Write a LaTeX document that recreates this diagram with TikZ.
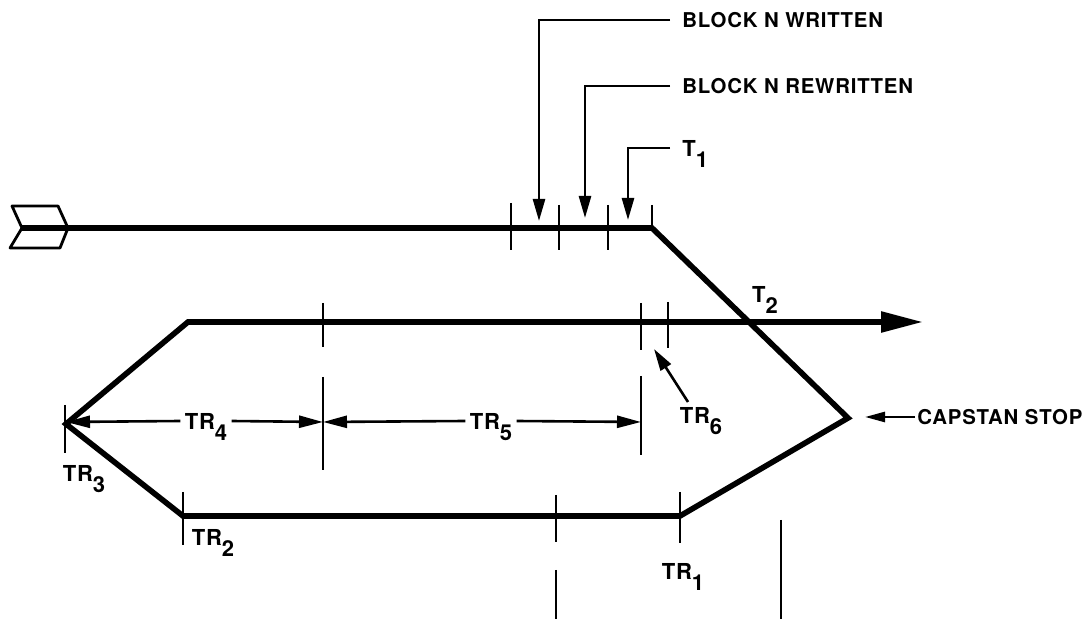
\documentclass[tikz,border=0pt]{standalone}
\usepackage{fontspec}
\setmainfont{TeX Gyre Heros}[LetterSpace=4]
\usetikzlibrary{arrows.meta}
\newcommand\lowsub[1]{\smash{\raisebox{-0.5em}{#1}}}
\tikzset{
  thickline/.style={line width=2.8pt},
  tickline/.style={line width=1.4pt},
  dimline/.style={line width=1.3pt,-{Triangle[length=12pt,width=6pt]}},
  callout/.style={line width=1.3pt,-{Triangle[length=11pt,width=6pt]}},
  blocklbl/.style={font=\bfseries\fontsize{10.2}{12}\selectfont, inner ysep=0pt, inner xsep=6pt, anchor=west},
  trlbl/.style={font=\bfseries\fontsize{11}{12}\selectfont, inner ysep=0pt, inner xsep=2pt},
}
\begin{document}
\begin{tikzpicture}[x=0.5pt,y=-0.5pt]
\useasboundingbox (0,0) rectangle (1083,619);
% main path coordinates
\coordinate (tail) at (22,228);
\coordinate (bend) at (652,228);
\coordinate (cap) at (848,418);
\coordinate (tr1v) at (680,516);
\coordinate (tr2v) at (183,516);
\coordinate (tr3v) at (66,424);
\coordinate (tl) at (188,322);
\coordinate (tip) at (923,322);
% fletching
\draw[tickline, line join=round] (12,206) -- (58,206) -- (68,228) -- (60,248) -- (10,248) -- (22,228) -- cycle;
% main tape path
\draw[thickline, -{Triangle[length=21pt,width=10pt]}] (tail) -- (bend) -- (cap) -- (tr1v) -- (tr2v) -- (tr3v) -- (tl) -- (tip);
% ticks on top line
\draw[tickline] (511,203) -- (511,250);
\draw[tickline] (559,205) -- (559,250);
\draw[tickline] (608,205) -- (608,250);
\draw[tickline] (652,205) -- (bend);
% ticks on second line
\draw[tickline] (323,303) -- (323,347);
\draw[tickline] (323,377) -- (323,470);
\draw[tickline] (641,303) -- (641,350);
\draw[tickline] (641,376) -- (641,455);
\draw[tickline] (668,302) -- (668,348);
% ticks at lower left
\draw[tickline] (65,405) -- (65,453);
\draw[tickline] (183,492) -- (183,545);
% bottom ticks
\draw[tickline] (556,495) -- (556,542);
\draw[tickline] (556,570) -- (556,619);
\draw[tickline] (680,492) -- (680,543);
\draw[tickline] (781,520) -- (781,619);
% callouts at top
\node[blocklbl] (bw) at (670,20) {BLOCK N WRITTEN};
\node[blocklbl] (br) at (670,86) {BLOCK N REWRITTEN};
\node[blocklbl, font=\bfseries\fontsize{11}{12}\selectfont] (t1) at (670,148) {T\lowsub{1}};
\coordinate (a1) at (539,221);
\coordinate (a2) at (585,218);
\coordinate (a3) at (628,220);
\draw[callout] (bw.west) -| (a1);
\draw[callout] (br.west) -| (a2);
\draw[callout] (t1.west) -| (a3);
% T2
\node[trlbl] (t2) at (765,294) {T\lowsub{2}};
% dimension labels
\coordinate (d0) at (66,422);
\coordinate (d1) at (323,422);
\coordinate (d2) at (641,422);
\node[trlbl] (tr4) at (206,421) {TR\lowsub{4}};
\node[trlbl] (tr5) at (491,421) {TR\lowsub{5}};
\draw[dimline] (tr4.west) -- (d0);
\draw[dimline] (tr4.east) -- (d1);
\draw[dimline] (tr5.west) -- (d1);
\draw[dimline] (tr5.east) -- (d2);
% TR6
\node[trlbl] (tr6) at (701,415) {TR\lowsub{6}};
\coordinate (tr6tail) at (688,402);
\coordinate (tr6tip) at (654,349);
\draw[callout] (tr6tail) -- (tr6tip);
% capstan stop
\node[blocklbl, inner xsep=1pt] (cs) at (915,417) {CAPSTAN STOP};
\coordinate (cstip) at (865,417);
\draw[line width=1.3pt,-{Triangle[length=10pt,width=5pt]}] (cs.west) -- (cstip);
% other TR labels
\node[trlbl] (tr3) at (84,473) {TR\lowsub{3}};
\node[trlbl] (tr2) at (213,537) {TR\lowsub{2}};
\node[trlbl] (tr1) at (683,571) {TR\lowsub{1}};
\end{tikzpicture}
\end{document}
